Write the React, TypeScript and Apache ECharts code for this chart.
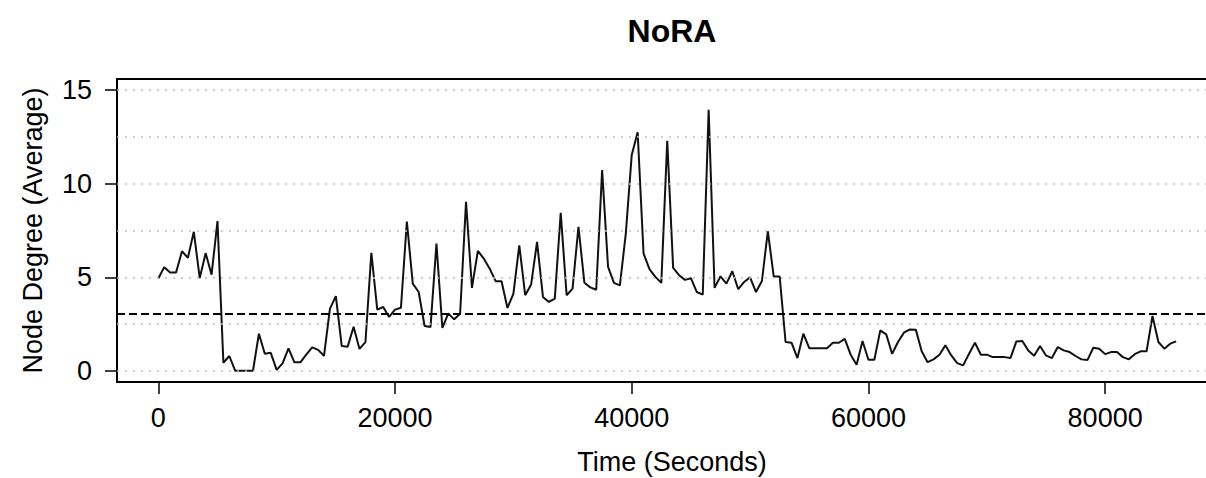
import React, { useEffect, useRef } from "react";
import * as echarts from "echarts";

const TITLE = "NoRA";
const X_LABEL = "Time (Seconds)";
const Y_LABEL = "Node Degree (Average)";
const STEP_SECONDS = 500;

const degree = [
  4.93, 5.54, 5.25, 5.25, 6.39, 6.04, 7.43, 4.96, 6.29, 5.14, 8.0, 0.43, 0.79, 0, 0, 0, 0, 1.98, 0.91, 0.96, 0.05, 0.4, 1.2, 0.45, 0.45,
  0.86, 1.25, 1.12, 0.8, 3.31, 3.99, 1.32, 1.29, 2.35, 1.17, 1.53, 6.31, 3.27, 3.41, 2.88, 3.27, 3.37,
  7.98, 4.66, 4.21, 2.39, 2.34, 6.8, 2.29,
  3.07, 2.75, 3.05, 9.04, 4.43, 6.41, 6.0, 5.46, 4.79, 4.79, 3.36, 4.11, 6.71, 4.04, 4.61, 6.89, 3.95, 3.68, 3.86, 8.45, 4.04, 4.39, 7.7, 4.71, 4.46,
  4.33, 10.73, 5.55, 4.7, 4.57, 7.34, 11.54, 12.75, 6.27, 5.43, 5.02, 4.7, 12.3, 5.5, 5.11, 4.86, 4.95, 4.21, 4.07, 13.95, 4.43, 5.05, 4.66, 5.32, 4.36,
  4.75, 5.0, 4.21, 4.8, 7.46, 5.04, 5.04, 1.54, 1.5, 0.68, 1.98, 1.21, 1.21, 1.21, 1.21, 1.5, 1.5, 1.71, 0.86, 0.32, 1.59, 0.59, 0.59, 2.16,
  1.95, 0.91, 1.54, 2.04, 2.21, 2.2, 1.04, 0.46, 0.61, 0.86, 1.36, 0.82, 0.41, 0.29, 0.91, 1.5, 0.86, 0.86, 0.73, 0.73, 0.73, 0.68, 1.57, 1.59, 1.09,
  0.8, 1.32, 0.82, 0.68, 1.27, 1.09, 1.0, 0.79, 0.61, 0.57, 1.23, 1.18, 0.89, 1.0, 1.0, 0.73, 0.61, 0.89, 1.04, 1.04, 2.93, 1.54, 1.18, 1.45, 1.57,
];

const MEAN_DEGREE = 3.04;
const X_TICKS = [0, 20000, 40000, 60000, 80000];
const Y_TICKS = [0, 5, 10, 15];
const Y_GRID = [0, 2.5, 5, 7.5, 10, 12.5, 15];

const FONT = '"Liberation Sans", Arial, Helvetica, sans-serif';

export default function App() {
  const ref = useRef<HTMLDivElement>(null);

  useEffect(() => {
    if (!ref.current) return;
    const chart = echarts.init(ref.current, null, { renderer: "svg" });
    const points = degree.map((v, i) => [i * STEP_SECONDS, v]);

    const textStyle = (size: number, weight: string = "normal") => ({
      fontSize: size,
      fontWeight: weight,
      fontFamily: FONT,
      fill: "#000",
      textAlign: "center",
      textVerticalAlign: "middle",
      align: "center",
      verticalAlign: "middle",
    });

    chart.setOption({
      animation: false,
      backgroundColor: "#fff",
      grid: {
        left: 117,
        top: 79,
        width: 1111,
        height: 303,
        show: true,
        containLabel: false,
        outerBoundsMode: "none",
        borderColor: "#000",
        borderWidth: 2,
        backgroundColor: "transparent",
      },
      xAxis: {
        type: "value",
        min: -3490,
        max: 90380,
        axisLine: { show: false, onZero: false },
        splitLine: { show: false },
        axisTick: {
          show: true,
          customValues: X_TICKS,
          length: 12,
          lineStyle: { color: "#000", width: 1.5 },
        },
        axisLabel: {
          customValues: X_TICKS,
          formatter: (v: number) => String(v),
          margin: 22,
          fontSize: 27,
          color: "#000",
          fontFamily: FONT,
        },
      },
      yAxis: {
        type: "value",
        min: -0.6,
        max: 15.6,
        axisLine: { show: false, onZero: false },
        splitLine: { show: false },
        axisTick: {
          show: true,
          customValues: Y_TICKS,
          length: 12,
          lineStyle: { color: "#000", width: 1.5 },
        },
        axisLabel: {
          customValues: Y_TICKS,
          formatter: (v: number) => String(v),
          margin: 25,
          fontSize: 27,
          color: "#000",
          fontFamily: FONT,
        },
      },
      series: [
        {
          type: "line",
          data: [],
          silent: true,
          z: 1,
          markLine: {
            symbol: "none",
            silent: true,
            animation: false,
            label: { show: false },
            lineStyle: { type: [2, 6], color: "#bdbdbd", width: 1.5 },
            data: Y_GRID.map((v) => ({ yAxis: v })),
          },
        },
        {
          type: "line",
          data: points,
          showSymbol: false,
          symbol: "none",
          z: 3,
          lineStyle: { color: "#111", width: 2 },
          markLine: {
            symbol: "none",
            silent: true,
            animation: false,
            label: { show: false },
            lineStyle: { type: [8, 4], color: "#000", width: 1.8 },
            data: [{ yAxis: MEAN_DEGREE }],
          },
        },
      ],
      graphic: [
        { type: "text", x: 672, y: 31, style: { text: TITLE, ...textStyle(32, "bold") } },
        { type: "text", x: 672, y: 462, style: { text: X_LABEL, ...textStyle(27) } },
        {
          type: "text",
          x: 33,
          y: 230.5,
          rotation: Math.PI / 2,
          style: { text: Y_LABEL, ...textStyle(27) },
        },
      ],
    });

    return () => chart.dispose();
  }, []);

  return (
    <div
      ref={ref}
      style={{ position: "fixed", left: 0, top: 0, width: 1206, height: 478 }}
    />
  );
}
